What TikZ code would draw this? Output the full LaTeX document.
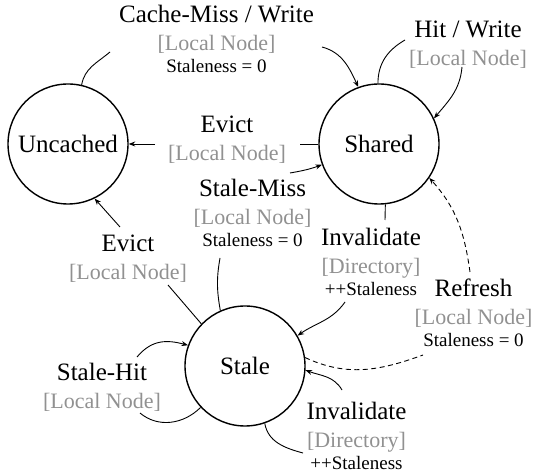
\documentclass[tikz,border=0pt]{standalone}
\usepackage{fontspec}
\setmainfont{Liberation Serif}
\usetikzlibrary{arrows.meta}
\definecolor{lgray}{RGB}{145,145,145}
\newcommand\fmain{\fontsize{25}{28}\selectfont}
\newcommand\fgray{\fontsize{22}{24}\selectfont\color{lgray}}
\newcommand\fsmall{\fontsize{19}{21}\selectfont}
\newcommand\labthree[3]{\vtop{\baselineskip=28pt\lineskiplimit=-1000pt\lineskip=0pt\halign{\hfil##\hfil\cr{\fmain #1}\cr{\fgray #2}\cr\noalign{\kern-6pt}{\fsmall #3}\cr}}}
\newcommand\labtwo[2]{\vtop{\baselineskip=28pt\lineskiplimit=-1000pt\lineskip=0pt\halign{\hfil##\hfil\cr{\fmain #1}\cr{\fgray #2}\cr}}}
\begin{document}
\begin{tikzpicture}[x=1pt,y=1pt,
  state/.style={circle, draw, line width=1.4pt, minimum size=120pt, inner sep=0pt, font=\fmain},
  lab/.style={inner sep=0pt, anchor=base},
  conn/.style={line width=0.9pt},
  arr/.style={conn, -{Stealth[length=6.5pt,width=5pt]}},
  dsh/.style={dash pattern=on 5pt off 3.5pt}]
\useasboundingbox (0,0) rectangle (534,473);
% states
\node[state] (U) at (68,329) {Uncached};
\node[state] (S) at (379,329) {Shared};
\node[state] (T) at (245,107) {Stale};
% labels
\node[lab] (L1) at (216.5,450) {\labthree{Cache-Miss / Write}{[Local Node]}{Staleness = 0}};
\node[lab] (L2) at (468,435) {\labtwo{Hit / Write}{[Local Node]}};
\node[lab] (L3) at (227,340) {\labtwo{Evict}{[Local Node]}};
\node[lab] (L4) at (252.5,276) {\labthree{Stale-Miss}{[Local Node]}{Staleness = 0}};
\node[lab] (L5) at (128,221) {\labtwo{Evict}{[Local Node]}};
\node[lab] (L6) at (371,227) {\labthree{Invalidate}{[Directory]}{++Staleness}};
\node[lab] (L7) at (473.5,176) {\labthree{Refresh}{[Local Node]}{Staleness = 0}};
\node[lab] (L8) at (102,92) {\labtwo{Stale-Hit}{[Local Node]}};
\node[lab] (L9) at (356.5,54) {\labthree{Invalidate}{[Directory]}{++Staleness}};
% Uncached -> Shared (Cache-Miss / Write)
\draw[conn] (U.77) to[out=80,in=220] ([shift={(-106.5,-29)}]L1.base);
\draw[arr] ([shift={(105.5,-24)}]L1.base) to[out=-15,in=115] (S.110);
% Shared self loop (Hit / Write)
\draw[conn] (S.91) to[out=90,in=210] ([shift={(-63,-2)}]L2.base);
\draw[arr] ([shift={(-6,-29)}]L2.base) to[out=-95,in=50] (S.25);
% Shared -> Uncached (Evict)
\draw[conn] (S.west) -- ([shift={(73,-11)}]L3.base);
\draw[arr] ([shift={(-72,-11)}]L3.base) -- (U.east);
% Stale -> Shared (Stale-Miss)
\draw[conn] (T.114) to[out=100,in=260] ([shift={(-32.5,-61)}]L4.base);
\draw[arr] ([shift={(37.5,24)}]L4.base) to[out=10,in=200] (S.200);
% Stale -> Uncached (Evict)
\draw[conn] (T.136) -- ([shift={(40,-33)}]L5.base);
\draw[arr] ([shift={(-8,25)}]L5.base) -- (U.296);
% Shared -> Stale (Invalidate)
\draw[conn] (S.-84) -- ([shift={(14,26)}]L6.base);
\draw[arr] ([shift={(-26,-56)}]L6.base) to[out=-125,in=35] (T.30);
% Stale -> Shared (Refresh), dashed
\draw[conn,dsh] (T.8) to[out=-25,in=200] ([shift={(-50.5,-58)}]L7.base);
\draw[arr,dsh] ([shift={(-3.5,25)}]L7.base) to[out=98,in=-48] (S.-34);
% Stale self loop (Stale-Hit)
\draw[conn] (T.223) to[out=225,in=-40] ([shift={(38,-32)}]L8.base);
\draw[arr] ([shift={(35,24)}]L8.base) to[out=50,in=165,looseness=1.1] (T.160);
% Stale self loop (Invalidate)
\draw[conn] (T.-71) to[out=-80,in=165] ([shift={(-53.5,-34)}]L9.base);
\draw[arr] ([shift={(-14.5,29)}]L9.base) to[out=120,in=-20] (T.-4);
\end{tikzpicture}
\end{document}
